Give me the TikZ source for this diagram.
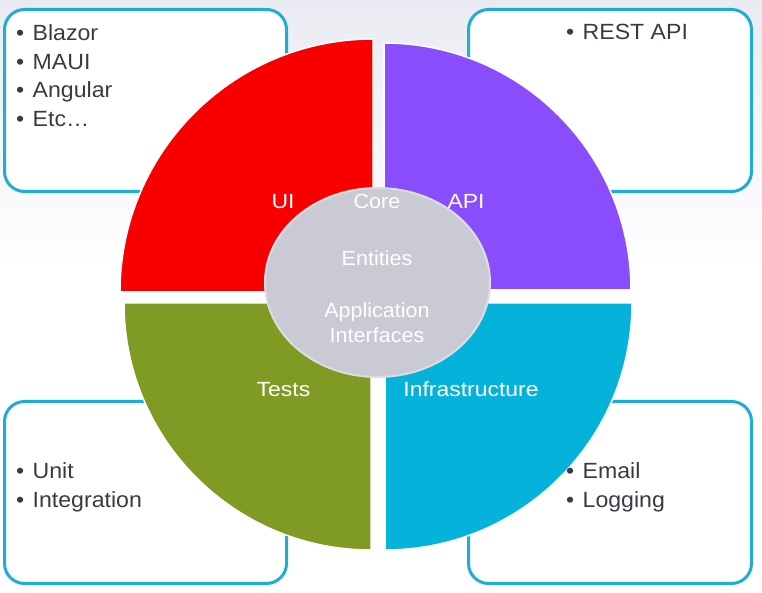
\documentclass[tikz,border=0pt]{standalone}
\usepackage{fontspec}
\setmainfont{Liberation Sans}
\newfontfamily\ringfont[FakeStretch=1.12]{Liberation Sans}
\newfontfamily\listfont[FakeStretch=1.05]{Liberation Sans}
\usetikzlibrary{shapes.geometric}
\begin{document}
\definecolor{uired}{HTML}{F80000}
\definecolor{apipurple}{HTML}{8A4DFB}
\definecolor{testgreen}{HTML}{809B24}
\definecolor{infracyan}{HTML}{04B2DA}
\definecolor{coregray}{HTML}{C9CAD3}
\definecolor{coreedge}{HTML}{DCDDE3}
\definecolor{boxedge}{HTML}{1DAED6}
\definecolor{itemtext}{HTML}{3A3A46}
\definecolor{bgtop}{HTML}{EAEBF2}
\begin{tikzpicture}[x=1pt,y=1pt,
  infobox/.style={draw=boxedge, fill=white, line width=3pt, rounded corners=20pt},
  quadrant/.style={draw=white, line width=1.5pt},
  item/.style={anchor=base west, inner sep=0pt, text=itemtext,
    font=\listfont\fontsize{22}{26}\selectfont,
    execute at begin node={\makebox[16.5pt][l]{\textbullet}}},
  ringlabel/.style={anchor=base, inner sep=0pt, text=white,
    font=\ringfont\fontsize{20.5}{24}\selectfont},
  corelabel/.style={ringlabel, font=\listfont\fontsize{20.5}{24}\selectfont}]
\useasboundingbox (0,0) rectangle (762,593);
% background: pale lavender fading to white
\fill[white] (0,0) rectangle (762,593);
\shade[top color=bgtop, bottom color=white] (0,323) rectangle (762,593);

% corner information boxes
\draw[infobox] (4.5,401.5) rectangle (286.5,583.5);
\draw[infobox] (468.5,401.5) rectangle (751.5,583.5);
\draw[infobox] (4.5,9.5) rectangle (286.5,191.5);
\draw[infobox] (468.5,9.5) rectangle (751.5,191.5);

% the four quadrants of the ring
\filldraw[quadrant, fill=uired] (373,301) -- (120,301) arc[start angle=180, end angle=90, radius=253] -- cycle;
\filldraw[quadrant, fill=apipurple] (384,303) -- (631,303) arc[start angle=0, end angle=90, radius=247] -- cycle;
\filldraw[quadrant, fill=testgreen] (371,290) -- (124,290) arc[start angle=180, end angle=270, radius=247] -- cycle;
\filldraw[quadrant, fill=infracyan] (385,290) -- (632,290) arc[start angle=0, end angle=-90, radius=247] -- cycle;

% core in the middle
\node[ellipse, draw=coreedge, fill=coregray, line width=2pt,
  minimum width=225pt, minimum height=189pt, inner sep=0pt] (core) at (377.5,310.5) {};

% quadrant and core labels
\node[ringlabel] (ui) at (283,384) {UI};
\node[corelabel] (corelbl) at (377,384) {Core};
\node[ringlabel] (api) at (466,384) {API};
\node[corelabel] (entities) at (377,327) {Entities};
\node[corelabel] (application) at (377,275) {Application};
\node[corelabel] (interfaces) at (377,250) {Interfaces};
\node[ringlabel] (tests) at (283.5,196) {Tests};
\node[ringlabel] (infra) at (471,196) {Infrastructure};

% bullet lists
\node[item] (blazor) at (16,552) {Blazor};
\node[item] (maui) at (16,523.5) {MAUI};
\node[item] (angular) at (16,495) {Angular};
\node[item] (etc) at (16,466.5) {Etc…};
\node[item] (rest) at (566,553) {REST API};
\node[item] (unit) at (16,114) {Unit};
\node[item] (integration) at (16,85) {Integration};
\node[item] (email) at (566,114) {Email};
\node[item] (logging) at (566,85) {Logging};
\end{tikzpicture}
\end{document}
